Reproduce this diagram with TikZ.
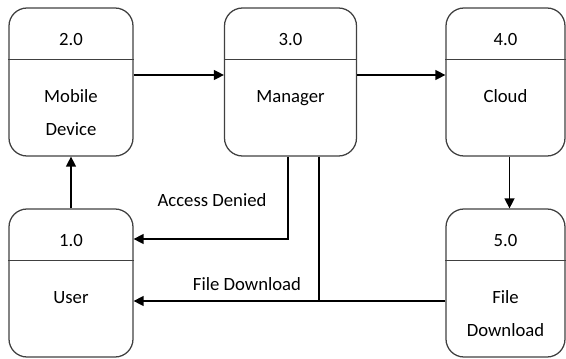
\documentclass[tikz,border=0pt]{standalone}
\usepackage{fontspec}
\setmainfont{Carlito}
\usetikzlibrary{arrows.meta,positioning}
\newcommand{\dfdproc}[5]{\node[procbox,minimum width=#3] (#1) at (#2) {};
  \draw[boxline] ([yshift=-1.3cm]#1.north west) -- ([yshift=-1.3cm]#1.north east);
  \node[txt,anchor=base] (#1num) at ([yshift=-0.95cm]#1.north) {#4};
  \node[txt,anchor=north,align=center] (#1lbl) at ([yshift=-1.775cm]#1.north) {\rule{0pt}{0.6cm}#5};}

\begin{document}
\begin{tikzpicture}[
  >={Triangle[length=0.25cm,width=0.25cm]},
  boxline/.style={draw=black!75, line width=0.9pt},
  procbox/.style={boxline, rounded corners=0.45cm, minimum height=3.7cm, inner sep=0pt},
  txt/.style={font=\fontsize{13.3}{23.5}\selectfont, inner sep=0pt},
  arr/.style={->, line width=1pt},
  flow/.style={line width=1pt},
]
\useasboundingbox (0,0) rectangle (14.15,-8.95);

% processes
\dfdproc{p2}{1.775,-2.05}{3.1cm}{2.0}{Mobile\\Device}
\dfdproc{p3}{7.2625,-2.05}{3.3cm}{3.0}{Manager}
\dfdproc{p4}{12.6375,-2.05}{2.975cm}{4.0}{Cloud}
\dfdproc{p1}{1.775,-7.075}{3.1cm}{1.0}{User}
\dfdproc{p5}{12.6375,-7.075}{2.975cm}{5.0}{File\\Download}

% data flows
\draw[arr] ([yshift=0.175cm]p2.east) -- ([yshift=0.175cm]p3.west);
\draw[arr] ([yshift=0.175cm]p3.east) -- ([yshift=0.175cm]p4.west);
\draw[arr] (p1.north) -- (p2.south);
\draw[arr] ([xshift=0.1cm]p4.south) -- ([xshift=0.1cm]p5.north);
\draw[arr] ([xshift=-0.06cm]p3.south) |- ([yshift=1.1cm]p1.east);
\coordinate (fdin) at ([yshift=-0.45cm]p5.west);
\draw[arr] (fdin) -- ([yshift=-0.45cm]p1.east);
\draw[flow] ([xshift=0.71cm]p3.south) -- ([xshift=0.71cm]p3.south |- fdin);

\node[txt] (adtxt) at (5.3,-5.0) {Access Denied};
\node[txt] (fdtxt) at (6.175,-7.1) {File Download};

\end{tikzpicture}
\end{document}
